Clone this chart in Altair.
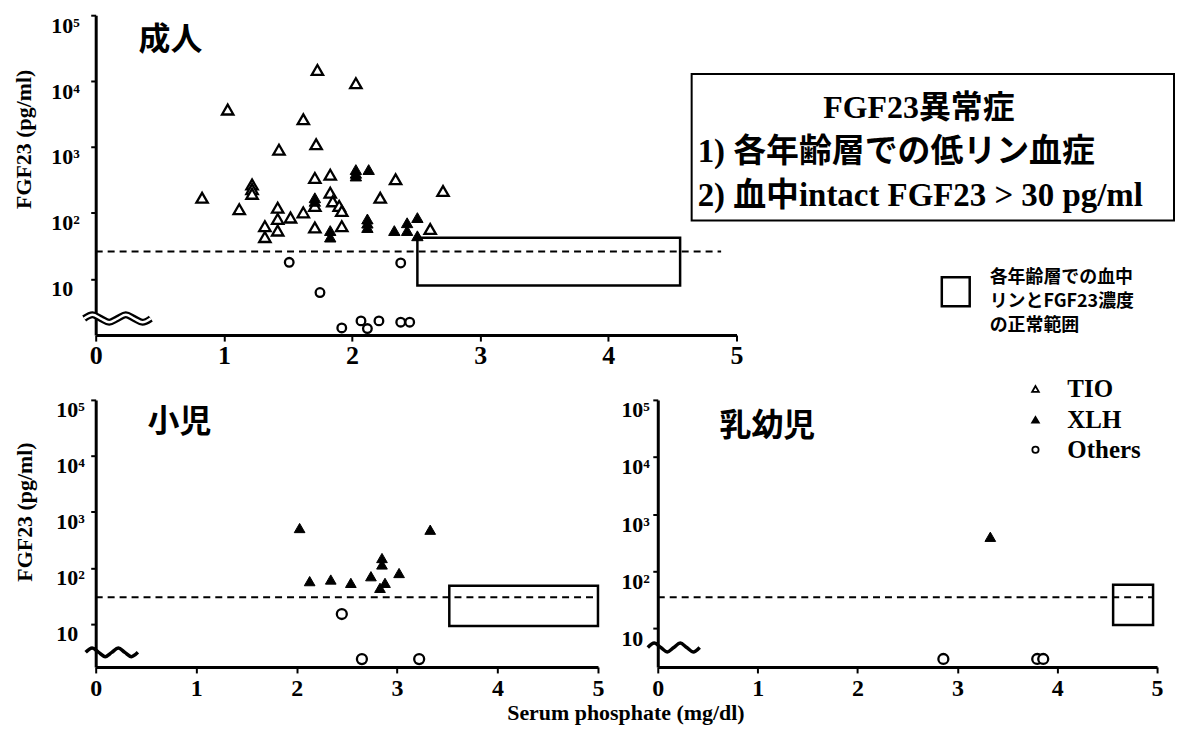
import altair as alt
import pandas as pd

# ---------------- data ----------------
# 成人 (adults)
adult_tio_x = [0.83, 1.03, 1.12, 1.22, 1.22, 1.22, 1.32, 1.32, 1.42, 1.42, 1.42, 1.43, 1.52, 1.62, 1.62,
               1.73, 1.72, 1.71, 1.71, 1.71, 1.83, 1.83, 1.85, 1.90, 1.92, 1.92, 2.03, 2.22, 2.34, 2.71, 2.61]
adult_tio_y = [170, 3700, 114, 270, 230, 195, 63, 43, 120, 81, 54, 910, 85, 102, 2640,
               14800, 1100, 340, 128, 60, 380, 203, 150, 128, 107, 63, 9300, 170, 324, 215, 57]
adult_xlh_x = [2.03, 2.03, 2.03, 2.13, 1.71, 1.71, 1.83, 1.83, 2.12, 2.12, 2.12, 2.33, 2.43, 2.43, 2.51, 2.51]
adult_xlh_y = [455, 400, 363, 455, 170, 150, 54, 43, 81, 70, 60, 54, 71, 54, 85, 45]
adult_oth_x = [1.51, 1.75, 2.38, 1.92, 2.07, 2.12, 2.21, 2.38, 2.45]
adult_oth_y = [17.8, 6.2, 17.4, 1.8, 2.3, 1.76, 2.3, 2.2, 2.2]

# 小児 (children)
child_xlh_x = [2.03, 2.13, 2.34, 2.54, 2.74, 2.85, 2.85, 2.83, 2.88, 3.02, 3.33]
child_xlh_y = [515, 58, 62, 54, 71, 150, 115, 44, 54, 81, 480]
child_oth_x = [2.45, 2.65, 3.22]
child_oth_y = [15, 2.35, 2.35]

# 乳幼児 (infants)
infant_xlh_x = [3.33]
infant_xlh_y = [400]
infant_oth_x = [2.86, 3.80, 3.86]
infant_oth_y = [2.9, 2.9, 2.9]

# normal ranges [x1, x2, y1, y2] and cut-off lines [y, x_end]
adult_normal = [2.51, 4.56, 7.9, 42]
child_normal = [3.52, 5.0, 9.2, 48]
infant_normal = [4.56, 4.96, 11.4, 58]
adult_cut = [26, 4.88]
child_cut = [30, 5.0]
infant_cut = [35, 4.96]

# axis break decoration (wavy line)
adult_wave_x = [-0.09, -0.025, 0.04, 0.105, 0.17, 0.235, 0.30, 0.365, 0.43]
adult_wave_y = [2.5, 2.85, 2.5, 2.19, 2.5, 2.85, 2.5, 2.19, 2.5]
child_wave_x = [-0.10, -0.035, 0.03, 0.095, 0.16, 0.225, 0.29, 0.355, 0.42]
child_wave_y = [3.1, 3.7, 3.1, 2.6, 3.1, 3.7, 3.1, 2.6, 3.1]
infant_wave_x = [-0.10, -0.035, 0.03, 0.095, 0.16, 0.225, 0.29, 0.355, 0.42]
infant_wave_y = [4.6, 5.5, 4.6, 3.85, 4.6, 5.5, 4.6, 3.85, 4.6]

x_tick_values = [0, 1, 2, 3, 4, 5]
y_tick_values = [10, 100, 1000, 10000, 100000]
y_tick_labels = ["10", "10²", "10³", "10⁴", "10⁵"]

SERIF = "Liberation Serif, DejaVu Serif, serif"
CJK = "Noto Sans CJK JP, Noto Sans CJK SC, sans-serif"
MIX = "Liberation Serif, Noto Sans CJK JP, serif"

label_expr = " : ".join(f"datum.value == {v} ? '{l}'" for v, l in zip(y_tick_values, y_tick_labels)) + " : ''"


def txt(s, x, y, size, font, align="left", baseline="middle"):
    return alt.Chart(alt.Data(values=[{}])).mark_text(
        text=s, font=font, fontSize=size, fontWeight="bold", align=align,
        baseline=baseline, color="black"
    ).encode(x=alt.value(x), y=alt.value(y))


def panel(width, height, ydomain, series, normal, cut, wave_x, wave_y, double_wave,
          yaxis_opts, xlab_size, xlab_pad, tri_size, circ_size, extras):
    xs = alt.Scale(domain=[0, 5], nice=False, zero=False)
    ys = alt.Scale(type="log", domain=ydomain, nice=False)
    xaxis = alt.Axis(values=x_tick_values, format="d", title=None, labelFont=SERIF,
                     labelFontSize=xlab_size, labelFontWeight="bold", labelFlush=False,
                     labelPadding=xlab_pad, tickSize=6, tickWidth=2, domainWidth=3)
    yaxis = alt.Axis(values=y_tick_values, labelExpr=label_expr, labelAlign="left",
                     labelBaseline="top", labelFont=SERIF, labelFontSize=22,
                     labelFontWeight="bold", labelOverlap=False, labelFlush=False,
                     tickSize=5, tickWidth=2, domainWidth=3, **yaxis_opts)
    X = alt.X("x:Q", scale=xs, axis=xaxis)
    Y = alt.Y("y:Q", scale=ys, axis=yaxis)

    layers = []
    nr = pd.DataFrame({"x": [normal[0]], "x2": [normal[1]], "y": [normal[2]], "y2": [normal[3]]})
    layers.append(alt.Chart(nr).mark_rect(fillOpacity=0, stroke="black", strokeWidth=2.5)
                  .encode(x=X, x2="x2:Q", y=Y, y2="y2:Q"))
    cl = pd.DataFrame({"x": [0], "x2": [cut[1]], "y": [cut[0]]})
    layers.append(alt.Chart(cl).mark_rule(strokeDash=[7, 5], strokeWidth=2, color="black")
                  .encode(x=X, x2="x2:Q", y=Y))
    wv = pd.DataFrame({"x": wave_x, "y": wave_y})
    if double_wave:
        layers.append(alt.Chart(wv).mark_line(interpolate="cardinal", color="black", strokeWidth=7)
                      .encode(x=X, y=Y))
        layers.append(alt.Chart(wv).mark_line(interpolate="cardinal", color="white", strokeWidth=2.5)
                      .encode(x=X, y=Y))
    else:
        layers.append(alt.Chart(wv).mark_line(interpolate="cardinal", color="black", strokeWidth=3.5)
                      .encode(x=X, y=Y))

    for kind, xv, yv in series:
        df = pd.DataFrame({"x": xv, "y": yv})
        if kind == "TIO":
            m = alt.Chart(df).mark_point(shape="triangle-up", size=tri_size, filled=True, fill="white",
                                         stroke="black", strokeWidth=2.3, opacity=1)
        elif kind == "XLH":
            m = alt.Chart(df).mark_point(shape="triangle-up", size=tri_size, filled=True, fill="black",
                                         stroke="black", strokeWidth=1, opacity=1)
        else:
            m = alt.Chart(df).mark_point(shape="circle", size=circ_size, filled=True, fill="white",
                                         stroke="black", strokeWidth=2.3, opacity=1)
        layers.append(m.encode(x=X, y=Y))

    layers.extend(extras)
    return alt.layer(*layers).properties(width=width, height=height)


def legend_pt(shape, fill, x, y, size):
    return alt.Chart(alt.Data(values=[{}])).mark_point(
        shape=shape, size=size, filled=True, fill=fill, stroke="black", strokeWidth=1.8, opacity=1
    ).encode(x=alt.value(x), y=alt.value(y))


# ---------- adult panel (top) ----------
adult_extras = [
    txt("成人", 43, 25, 32, CJK),
    alt.Chart(alt.Data(values=[{}])).mark_rect(fill="white", stroke="black", strokeWidth=2)
    .encode(x=alt.value(598), x2=alt.value(1082), y=alt.value(59), y2=alt.value(206)),
    txt("FGF23異常症", 826, 93, 32, MIX, align="center"),
    txt("1) 各年齢層での低リン血症", 604, 137, 33, MIX),
    txt("2) 血中intact FGF23 > 30 pg/ml", 604, 181, 33, MIX),
    alt.Chart(alt.Data(values=[{}])).mark_rect(fillOpacity=0, stroke="black", strokeWidth=2.5)
    .encode(x=alt.value(849), x2=alt.value(877), y=alt.value(263), y2=alt.value(292)),
    txt("各年齢層での血中", 897, 264, 18, CJK),
    txt("リンとFGF23濃度", 897, 288, 18, CJK),
    txt("の正常範囲", 897, 312, 18, CJK),
]
adult = panel(
    643, 321, [1.4, 100000],
    [("TIO", adult_tio_x, adult_tio_y), ("XLH", adult_xlh_x, adult_xlh_y), ("Others", adult_oth_x, adult_oth_y)],
    adult_normal, adult_cut, adult_wave_x, adult_wave_y, True,
    dict(title="FGF23 (pg/ml)", titleX=-72, titleY=124, titleBaseline="middle", titleFont=SERIF,
         titleFontSize=22, titleFontWeight="bold", labelPadding=40),
    26, 1, 130, 75, adult_extras,
)

# ---------- child panel (bottom left) ----------
child_extras = [
    txt("小児", 52, 22, 32, CJK),
    txt("Serum phosphate (mg/dl)", 532, 314, 22, SERIF, align="center"),
]
child = panel(
    504, 268, [1.7, 100000],
    [("XLH", child_xlh_x, child_xlh_y), ("Others", child_oth_x, child_oth_y)],
    child_normal, child_cut, child_wave_x, child_wave_y, False,
    dict(title="FGF23 (pg/ml)", titleX=-71, titleY=112, titleBaseline="middle", titleFont=SERIF,
         titleFontSize=22, titleFontWeight="bold", labelPadding=35),
    24, 4, 115, 100, child_extras,
)

# ---------- infant panel (bottom right) ----------
infant_extras = [
    txt("乳幼児", 62, 26, 32, CJK),
    legend_pt("triangle-up", "white", 379, -11, 45),
    legend_pt("triangle-up", "black", 379, 20, 45),
    legend_pt("circle", "white", 379, 50, 40),
    txt("TIO", 411, -11, 25, SERIF),
    txt("XLH", 411, 20, 25, SERIF),
    txt("Others", 411, 50, 25, SERIF),
]
infant = panel(
    501, 268, [2.1, 100000],
    [("XLH", infant_xlh_x, infant_xlh_y), ("Others", infant_oth_x, infant_oth_y)],
    infant_normal, infant_cut, infant_wave_x, infant_wave_y, False,
    dict(title=None, labelPadding=32),
    24, 4, 115, 100, infant_extras,
)

bottom = alt.hconcat(child, infant, spacing=60, bounds="flush")
chart = (
    alt.vconcat(adult, bottom, spacing=65, bounds="flush")
    .properties(padding={"left": 4, "top": 5, "right": 0, "bottom": 0})
    .configure_view(stroke=None)
    .configure_axis(domainColor="black", tickColor="black", labelColor="black",
                    titleColor="black", grid=False)
)

chart.save("out.html", embed_options={"renderer": "svg", "actions": False})
